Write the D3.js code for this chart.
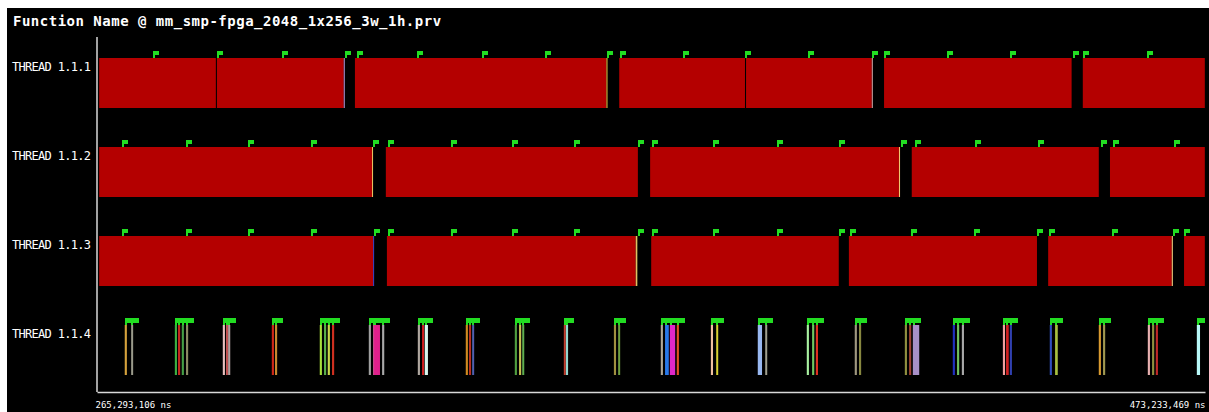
<!DOCTYPE html>
<html>
<head>
<meta charset="utf-8">
<title>Function Name @ mm_smp-fpga_2048_1x256_3w_1h.prv</title>
<style>
  body { margin: 0; background: #ffffff; }
  svg { display: block; }
  .title { font-family: "DejaVu Sans Mono", monospace; font-weight: bold; font-size: 14px; letter-spacing: 0.5px; fill: #ffffff; }
  .thread_label { font-family: "DejaVu Sans Mono", monospace; font-size: 12px; letter-spacing: -0.7px; fill: #ffffff; }
  .time_label { font-family: "DejaVu Sans Mono", monospace; font-size: 9px; fill: #ffffff; }
</style>
</head>
<body>
<script src="https://cdn.jsdelivr.net/npm/d3@7/dist/d3.min.js"></script>
<script>
  // time window of the view (ms)
  var windowStart = 265.293106;
  var windowEnd = 473.233469;

  var threads = ["THREAD 1.1.1", "THREAD 1.1.2", "THREAD 1.1.3", "THREAD 1.1.4"];

  var RED = "#b40000";

  // function segments per thread: [begin ms, end ms, colour]
  var thread1 = [
    [265.7, 287.6, RED], [287.8, 311.6, RED], [311.6, 311.8, "#a890d0"],
    [313.7, 360.9, RED], [360.9, 361.1, "#e0c040"],
    [363.3, 386.9, RED], [387.1, 410.7, RED], [410.7, 410.9, "#c8a0a0"],
    [413.0, 448.2, RED], [450.3, 473.2, RED]
  ];
  var thread2 = [
    [265.7, 316.9, RED], [316.9, 317.1, "#e8c060"], [319.5, 366.8, RED],
    [369.1, 415.8, RED], [415.8, 416.0, "#f0c870"], [418.2, 453.3, RED],
    [455.4, 473.2, RED]
  ];
  var thread3 = [
    [265.7, 317.1, RED], [317.1, 317.3, "#4040c0"], [319.7, 366.4, RED],
    [366.4, 366.7, "#e0c060"], [369.3, 404.5, RED], [406.4, 441.7, RED],
    [443.8, 467.0, RED], [467.0, 467.2, "#f0d080"], [469.3, 473.2, RED]
  ];
  var thread4 = [
    [270.5, 270.9, "#d4a13c"], [271.7, 272.0, "#9a9a8a"],
    [279.9, 280.3, "#3cb043"], [280.5, 280.9, "#c8281e"], [281.2, 281.6, "#46a046"], [282.0, 282.4, "#8c8c64"],
    [288.9, 289.3, "#e8c0c0"], [289.5, 289.7, "#c05050"], [289.9, 290.3, "#b0a0a0"],
    [298.1, 298.5, "#d02818"], [298.7, 299.1, "#c88a30"],
    [307.1, 307.5, "#a8e03c"], [307.9, 308.3, "#5ab04a"], [308.6, 309.0, "#c8d84a"], [309.4, 309.8, "#d03020"],
    [316.3, 316.7, "#a0a0a0"], [317.1, 317.3, "#d05090"], [317.3, 318.4, "#e0208c"], [318.8, 319.2, "#a8a8a8"],
    [325.5, 325.9, "#b0a8a0"], [326.3, 326.6, "#d02020"], [326.8, 327.4, "#d8f8f0"],
    [334.5, 334.9, "#d08a20"], [335.1, 335.5, "#b83020"], [335.7, 336.0, "#5060b0"],
    [343.7, 344.1, "#50a040"], [344.5, 344.9, "#c8c050"], [345.1, 345.4, "#60b050"],
    [352.9, 353.1, "#c04030"], [353.3, 353.7, "#90d8d0"],
    [362.3, 362.7, "#a09040"], [363.1, 363.4, "#70a040"],
    [371.1, 371.5, "#b0a898"], [371.9, 372.6, "#2878e8"], [372.8, 373.8, "#e028c8"], [374.1, 374.5, "#e05020"],
    [380.5, 380.9, "#f0c0a0"], [381.5, 381.8, "#d8d030"],
    [389.3, 390.1, "#98b8f0"], [390.7, 391.0, "#a0a090"],
    [398.5, 398.9, "#a8f0a0"], [399.5, 399.9, "#70c860"], [400.2, 400.6, "#e03020"],
    [407.5, 407.9, "#a09880"], [408.3, 408.7, "#888840"],
    [416.9, 417.3, "#909040"], [417.7, 418.1, "#a04030"], [418.4, 419.6, "#a890c8"],
    [425.9, 426.3, "#2030c0"], [426.7, 427.1, "#70c060"], [427.6, 428.0, "#a8a8a8"],
    [435.3, 435.7, "#f0a0a0"], [435.9, 436.4, "#d02020"], [436.6, 437.0, "#3040b0"],
    [444.1, 444.5, "#3050c0"], [445.1, 445.6, "#a8c040"],
    [453.3, 453.7, "#d89a30"], [454.1, 454.5, "#a09850"],
    [462.5, 462.9, "#e8b0b0"], [463.3, 463.7, "#909040"], [464.0, 464.4, "#c02828"],
    [471.7, 472.3, "#b8f8f8"]
  ];

  // event flags (ms)
  var flags1 = [275.8, 287.8, 300.0, 311.8, 314.1, 325.3, 337.5, 349.4, 361.0, 363.4,
                375.3, 386.9, 398.7, 410.7, 413.0, 424.8, 436.6, 448.5, 450.3, 462.3];
  var flags2 = [270.0, 282.0, 293.6, 305.5, 317.1, 319.9, 331.7, 343.2, 354.8, 366.8, 369.5,
                380.9, 392.9, 404.5, 416.2, 418.8, 430.1, 441.9, 453.7, 456.0, 467.4];
  var flags3 = [270.0, 282.0, 293.6, 305.5, 317.3, 319.9, 331.7, 343.2, 354.8, 366.8, 369.5,
                380.9, 392.9, 404.5, 406.6, 418.1, 429.9, 441.7, 444.0, 455.8, 467.2, 469.3];

  var segments = [thread1, thread2, thread3, thread4];
  var flags = [flags1, flags2, flags3, thread4.map(function(d) { return d[0]; })];

  var width = 1209, height = 412;
  var plotLeft = 97, plotRight = 1205, plotTop = 37, plotBottom = 393;

  var x = d3.scaleLinear().domain([windowStart, windowEnd]).range([plotLeft, plotRight]);
  var y = d3.scaleBand().domain(threads).range([plotTop, plotBottom]);

  var svg = d3.select("body").append("svg")
    .attr("width", width)
    .attr("height", height);

  // black panel
  svg.append("rect")
    .attr("x", 7).attr("y", 8)
    .attr("width", width - 7).attr("height", height - 8)
    .attr("fill", "#000000");

  svg.append("text")
    .attr("class", "title")
    .attr("x", 13)
    .attr("y", 26)
    .text("Function Name @ mm_smp-fpga_2048_1x256_3w_1h.prv");

  var barOffset = 21, barHeight = 50;

  // segments
  threads.forEach(function(t, i) {
    svg.append("g")
      .selectAll("rect")
      .data(segments[i])
      .enter()
      .append("rect")
      .attr("x", function(d) { return x(d[0]); })
      .attr("y", y(t) + barOffset)
      .attr("width", function(d) { return Math.max(i === 3 ? 2 : 1, x(d[1]) - x(d[0])); })
      .attr("height", barHeight)
      .attr("fill", function(d) { return d[2]; });
  });

  // flags
  threads.forEach(function(t, i) {
    var g = svg.append("g").attr("fill", "#22dd22");
    var yTop = y(t) + barOffset;
    g.selectAll("rect.stem")
      .data(flags[i])
      .enter()
      .append("rect")
      .attr("class", "stem")
      .attr("x", function(d) { return Math.round(x(d)); })
      .attr("y", yTop - 7)
      .attr("width", 2)
      .attr("height", 7);
    g.selectAll("rect.head")
      .data(flags[i])
      .enter()
      .append("rect")
      .attr("class", "head")
      .attr("x", function(d) { return Math.round(x(d)); })
      .attr("y", yTop - 7)
      .attr("width", i === 3 ? 8 : 6)
      .attr("height", i === 3 ? 5 : 4);
  });

  // thread labels
  var yAxis = svg.append("g")
    .attr("transform", "translate(" + plotLeft + ",0)")
    .call(d3.axisLeft(y).tickSize(0));
  yAxis.attr("font-family", null).attr("font-size", null);
  yAxis.select(".domain").remove();
  yAxis.selectAll("text")
    .attr("class", "thread_label")
    .attr("x", 12 - plotLeft)
    .attr("y", -14.5)
    .attr("dy", "0.35em")
    .attr("fill", "#ffffff")
    .attr("text-anchor", "start");

  // axis lines
  svg.append("line")
    .attr("x1", plotLeft).attr("x2", plotLeft)
    .attr("y1", plotTop).attr("y2", plotBottom - 1)
    .attr("stroke", "#d8d8d8").attr("stroke-width", 1.5);

  var xAxis = svg.append("g")
    .attr("transform", "translate(0," + (plotBottom - 1) + ")")
    .call(d3.axisBottom(x)
      .tickValues([windowStart, windowEnd])
      .tickSize(0)
      .tickFormat(function(d) { return d3.format(",")(Math.round(d * 1e6)) + " ns"; }));
  xAxis.attr("font-family", null).attr("font-size", null);
  xAxis.select(".domain")
    .attr("stroke", "#d8d8d8").attr("stroke-width", 1.5);
  xAxis.selectAll("text")
    .attr("class", "time_label")
    .attr("fill", "#ffffff")
    .attr("y", 13)
    .attr("dy", "0.35em")
    .attr("text-anchor", function(d, i) { return i === 0 ? "start" : "end"; })
    .attr("dx", function(d, i) { return i === 0 ? -2 : 0; });
</script>
</body>
</html>
